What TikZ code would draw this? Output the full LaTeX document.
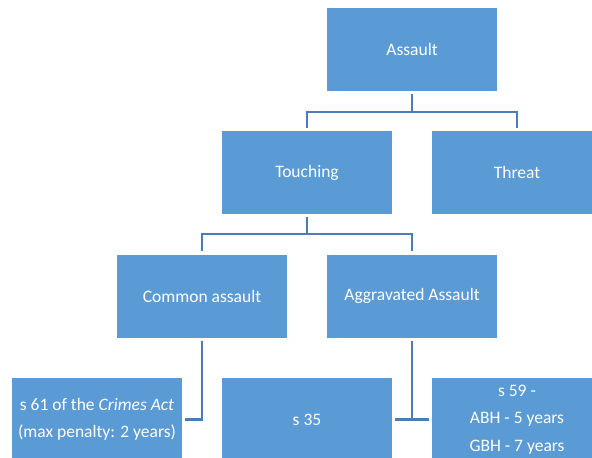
\documentclass[tikz,border=0pt]{standalone}
\usepackage{fontspec}
\setmainfont{Carlito}
\usetikzlibrary{positioning, calc}
\definecolor{boxblue}{HTML}{5B9BD5}
\definecolor{linkblue}{HTML}{4A7EBB}

\begin{document}
\begin{tikzpicture}[x=1pt, y=-1pt,
    box/.style={rectangle, fill=boxblue, text=white, minimum width=170pt,
                minimum height=83pt, inner sep=0pt, align=center,
                font=\fontsize{17.5}{27.5}\selectfont},
    link/.style={linkblue, line width=2.2pt, shorten <=3pt, shorten >=3pt}]
  \useasboundingbox (0,0) rectangle (592,458);
  \clip (0,0) rectangle (592,458);
  \node[box] (assault) at (412,49) {Assault};
  \node[box] (touching) at (307,172.5) {Touching};
  \node[box] (threat) at (517,172.5) {Threat};
  \node[box] (common) at (202,296) {Common assault};
  \node[box] (aggravated) at (412,296) {Aggravated Assault};
  \node[box] (s61) at (97,419.5) {s 61 of the \textit{Crimes Act}\\(max penalty: 2 years)};
  \node[box] (s35) at (307,419.5) {s 35};
  \node[box] (s59) at (517,419.5) {s 59 -\\ABH - 5 years\\GBH - 7 years};
  % tree lines
  \coordinate (j0) at (412,112);
  \coordinate (j1) at (307,234);
  \coordinate (j2) at (412,419.5);
  \foreach \kid in {touching, threat}
    \draw[link] (assault) -- (j0) -| (\kid);
  \foreach \kid in {common, aggravated}
    \draw[link] (touching) -- (j1) -| (\kid);
  \draw[link] (common) |- (s61);
  \draw[link, shorten >=0pt] (aggravated) -- (j2);
  \draw[link] (s35) -- (s59);
\end{tikzpicture}
\end{document}
